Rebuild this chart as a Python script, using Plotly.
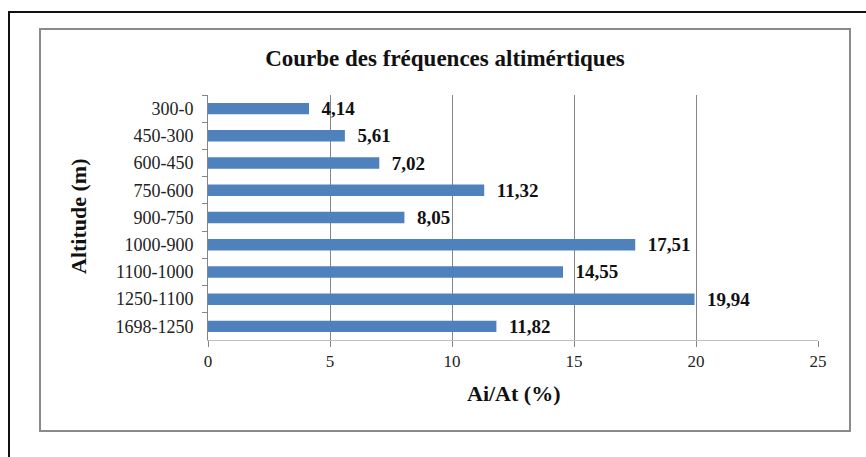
import plotly.graph_objects as go

categories = ["300-0", "450-300", "600-450", "750-600", "900-750",
              "1000-900", "1100-1000", "1250-1100", "1698-1250"]
values = [4.14, 5.61, 7.02, 11.32, 8.05, 17.51, 14.55, 19.94, 11.82]
x_ticks = [0, 5, 10, 15, 20, 25]

title_text = "Courbe des fréquences altimértiques"
x_title = "Ai/At (%)"
y_title = "Altitude (m)"

W, H = 866, 457
L, R, T, B = 208, 818, 95, 340
pw, ph = R - L, B - T

def px_x(p):
    return (p - L) / pw

def px_y(p):
    return (B - p) / ph

serif = "Liberation Serif, Times New Roman, serif"

fig = go.Figure()
fig.add_trace(go.Bar(
    y=categories, x=values, orientation="h",
    marker=dict(color="#4F81BD", line=dict(width=0)),
    texttemplate="  <b>%{x:.2f}</b>", textposition="outside",
    constraintext="none",
    textfont=dict(family=serif, size=19, color="#111111"),
    cliponaxis=False,
))

fig.update_layout(
    width=W, height=H,
    margin=dict(l=L, r=W - R, t=T, b=H - B, autoexpand=False),
    paper_bgcolor="white", plot_bgcolor="white",
    separators=", ",
    bargap=0.58,
    showlegend=False,
    font=dict(family=serif, color="#222222"),
    title=dict(text="<b>" + title_text + "</b>", x=445 / W, xanchor="center",
               y=1 - 58 / H, yanchor="middle", xref="container", yref="container",
               font=dict(family=serif, size=23, color="#111111")),
    xaxis=dict(range=[0, 25], tickvals=x_ticks, showgrid=True, automargin=False,
               gridcolor="#858585", gridwidth=1, zeroline=False,
               showline=True, linecolor="#bfbfbf", linewidth=1,
               ticks="outside", ticklen=6, tickcolor="#858585",
               tickfont=dict(family=serif, size=17, color="#222222")),
    yaxis=dict(autorange="reversed", type="category", automargin=False,
               showline=True, linecolor="#858585", linewidth=1,
               ticks="outside", ticklen=5, tickcolor="#858585",
               tickson="boundaries", showgrid=False,
               tickfont=dict(family=serif, size=18, color="#222222"),
               ticklabelstandoff=10),
    annotations=[
        dict(text="<b>" + x_title + "</b>", xref="paper", yref="paper",
             x=px_x(513), y=px_y(393), xanchor="center", yanchor="middle",
             showarrow=False, font=dict(family=serif, size=22, color="#111111")),
        dict(text="<b>" + y_title + "</b>", xref="paper", yref="paper",
             x=px_x(78), y=px_y(217), xanchor="center", yanchor="middle",
             textangle=-90, showarrow=False,
             font=dict(family=serif, size=22, color="#111111")),
    ],
    shapes=[
        dict(type="rect", xref="paper", yref="paper",
             x0=px_x(9), x1=px_x(W + 5), y0=px_y(H + 5), y1=px_y(12),
             line=dict(color="#111111", width=2), fillcolor="rgba(0,0,0,0)",
             layer="below"),
        dict(type="rect", xref="paper", yref="paper",
             x0=px_x(40), x1=px_x(850), y0=px_y(431), y1=px_y(29),
             line=dict(color="#8a8a8a", width=2), fillcolor="rgba(0,0,0,0)",
             layer="below"),
    ],
)

fig.write_html("out.html", config={"displayModeBar": False},
               post_script="document.body.style.margin='0';document.body.style.padding='0';")
